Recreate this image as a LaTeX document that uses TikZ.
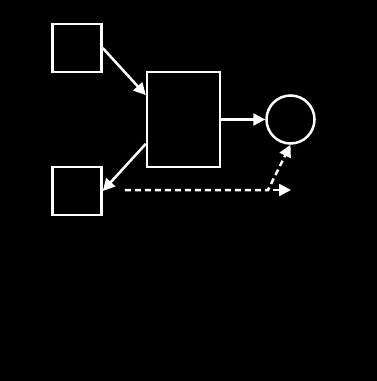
\documentclass[tikz,border=0pt]{standalone}
\usetikzlibrary{arrows.meta,calc}
\begin{document}
\begin{tikzpicture}[x=1pt,y=-1pt,
  box/.style={draw=white,line width=2.5pt,minimum width=#1,inner sep=0pt},
  conn/.style={draw=white,line width=2.5pt,-{Triangle[length=12pt,width=12pt]}},
  dconn/.style={conn,dash pattern=on 6pt off 4pt}]
\fill[black] (0,0) rectangle (377,381);
\useasboundingbox (0,0) rectangle (377,381);
\node[box=49pt,minimum height=48pt] (b1) at (77,48) {};
\node[box=73pt,minimum height=95pt] (b2) at (183.5,119.5) {};
\node[box=49pt,minimum height=48pt] (b3) at (77,191) {};
\node[draw=white,line width=2.5pt,circle,minimum size=48pt,inner sep=0pt] (c) at (290.5,119.5) {};
\coordinate (s) at ($(b3.east)+(22,-1)$);
\coordinate (k) at (268,190);
\coordinate (k2) at (273,190);
\coordinate (e) at (291,190);
\draw[conn] (b1.east) -- ($(b2.north west)!0.25!(b2.south west)$);
\draw[conn] ($(b2.north west)!0.75!(b2.south west)$) -- (b3.east);
\draw[conn] (b2.east) -- (c.west);
\draw[dconn] (s) -- (k) -- (c.south);
\draw[conn] (k2) -- (e);
\end{tikzpicture}
\end{document}
